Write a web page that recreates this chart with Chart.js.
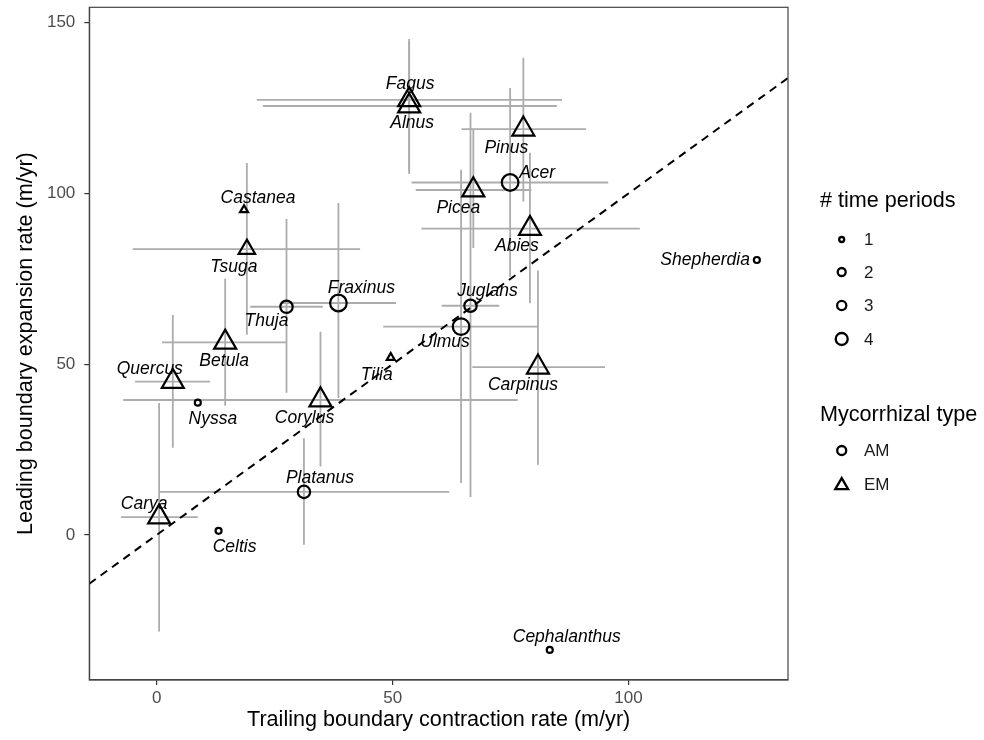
<!DOCTYPE html>
<html>
<head>
<meta charset="utf-8">
<script src="https://cdn.jsdelivr.net/npm/chart.js@4.4.1/dist/chart.umd.min.js"></script>
<style>
  html, body { margin: 0; padding: 0; background: #ffffff; }
  canvas { display: block; }
</style>
</head>
<body>
<canvas id="c" width="984" height="740"></canvas>
<script>
// ---- data ----
const species = ['Fagus','Alnus','Castanea','Tsuga','Thuja','Fraxinus','Betula','Quercus','Nyssa','Corylus','Tilia','Ulmus','Juglans','Picea','Acer','Pinus','Abies','Carpinus','Shepherdia','Cephalanthus','Platanus','Carya','Celtis'];
const trailing = [53.5,53.5,18.5,19.1,27.5,38.5,14.5,3.4,8.7,34.7,49.6,64.5,66.5,67.1,74.9,77.7,79.1,80.8,127.2,83.3,31.2,0.5,13.1];
const leading  = [127.4,125.6,95.2,83.7,66.8,67.9,56.4,44.9,38.7,39.5,51.9,61.0,67.1,101.0,103.2,118.8,89.7,49.1,80.5,-33.7,12.6,5.2,1.2];
const trailLo = [21.2,22.5,null,-5.1,19.8,26.3,1.1,-4.6,null,-7.1,null,48.0,60.4,54.9,54.0,64.6,56.1,66.9,null,null,0.5,-7.6,null];
const trailHi = [85.9,84.8,null,43.1,35.2,50.7,27.5,11.3,null,76.5,null,80.8,72.6,79.4,95.7,91.0,102.4,95.0,null,null,62.0,8.7,null];
const leadLo  = [105.7,106.5,null,58.6,41.6,40.1,37.8,25.5,null,20.0,null,15.2,11.1,84.0,75.5,97.6,67.8,20.5,null,null,-2.9,-28.3,null];
const leadHi  = [145.2,144.5,null,108.9,92.5,97.2,75.0,64.4,null,59.5,null,106.9,123.6,118.6,130.9,139.7,111.9,77.4,null,null,28.3,38.6,null];
const periods = [4,4,1,3,3,4,4,4,1,4,1,4,3,4,4,4,4,4,1,1,3,4,1];
const myco    = ['EM','EM','EM','EM','AM','AM','EM','EM','AM','EM','EM','AM','AM','EM','AM','EM','EM','EM','AM','AM','AM','EM','AM'];
const xTicks = [0, 50, 100];
const yTicks = [0, 50, 100, 150];
const periodLevels = [1, 2, 3, 4];
const mycoLevels = ['AM', 'EM'];
const xRange = [-14.3, 133.8];
const yRange = [-42.5, 154.5];
const oneToOne = [xRange[0], xRange[1]]; // y = x reference line

// ---- layout / style (not data) ----
const labelOffsets = [[1,-16],[3,17],[14,-12],[-13,18],[-20,14],[23,-15],[-1,19],[-23,-12],[15,16],[-16,18],[-14,17],[-16,16],[17,-15],[-15,18],[27,-9],[-17,19],[-13,18],[-15,18],[-7,0],[17,-13],[16,-14],[-15,-13],[16,16]];
const labelAlign = species.map(s => s === 'Shepherdia' ? 'right' : 'center');
const circleR = {1: 3.0, 2: 5.2, 3: 6.2, 4: 8.3};
const triScale = 1.53;
const legendCircleR = {1: 2.5, 2: 4.0, 3: 4.6, 4: 6.0};
const FONT = '"Liberation Sans", Arial, Helvetica, sans-serif';

const radii = periods.map((p, i) => myco[i] === 'EM' ? circleR[p] * triScale : circleR[p]);
const styles = myco.map(m => m === 'EM' ? 'triangle' : 'circle');

const overlay = {
  id: 'overlay',
  beforeDatasetsDraw(chart) {
    const {ctx, chartArea: a, scales: {x, y}} = chart;
    ctx.save();
    ctx.beginPath();
    ctx.rect(a.left, a.top, a.right - a.left, a.bottom - a.top);
    ctx.clip();
    ctx.strokeStyle = 'rgb(172,172,172)';
    ctx.lineWidth = 1.8;
    for (let i = 0; i < species.length; i++) {
      if (trailLo[i] !== null) {
        const py = y.getPixelForValue(leading[i]);
        ctx.beginPath();
        ctx.moveTo(x.getPixelForValue(trailLo[i]), py);
        ctx.lineTo(x.getPixelForValue(trailHi[i]), py);
        ctx.stroke();
      }
      if (leadLo[i] !== null) {
        const px = x.getPixelForValue(trailing[i]);
        ctx.beginPath();
        ctx.moveTo(px, y.getPixelForValue(leadLo[i]));
        ctx.lineTo(px, y.getPixelForValue(leadHi[i]));
        ctx.stroke();
      }
    }
    ctx.restore();
  },
  afterDatasetsDraw(chart) {
    const {ctx, chartArea: a, scales: {x, y}} = chart;
    ctx.save();
    ctx.fillStyle = '#000';
    ctx.font = 'italic 17.5px ' + FONT;
    ctx.textBaseline = 'middle';
    for (let i = 0; i < species.length; i++) {
      ctx.textAlign = labelAlign[i];
      ctx.fillText(species[i], x.getPixelForValue(trailing[i]) + labelOffsets[i][0], y.getPixelForValue(leading[i]) + labelOffsets[i][1]);
    }
    // panel border
    ctx.strokeStyle = '#444';
    ctx.lineWidth = 1.2;
    ctx.strokeRect(a.left, a.top, a.right - a.left, a.bottom - a.top);
    // axis titles
    ctx.font = '21.6px ' + FONT;
    ctx.textAlign = 'center';
    ctx.textBaseline = 'middle';
    ctx.fillText('Trailing boundary contraction rate (m/yr)', (a.left + a.right) / 2, 720);
    ctx.save();
    ctx.translate(26, (a.top + a.bottom) / 2);
    ctx.rotate(-Math.PI / 2);
    ctx.fillText('Leading boundary expansion rate (m/yr)', 0, 0);
    ctx.restore();
    // legends
    const lx = 820, ix = 841.7, tx = 864;
    ctx.textAlign = 'left';
    ctx.font = '21.6px ' + FONT;
    ctx.fillText('# time periods', lx, 201);
    ctx.fillText('Mycorrhizal type', lx, 415);
    ctx.font = '17px ' + FONT;
    ctx.strokeStyle = '#000';
    ctx.lineWidth = 2.3;
    const pys = [239.5, 272, 305.5, 339];
    periodLevels.forEach((p, k) => {
      ctx.beginPath();
      ctx.arc(ix, pys[k], legendCircleR[p], 0, Math.PI * 2);
      ctx.stroke();
      ctx.fillStyle = '#1a1a1a';
      ctx.fillText(String(p), tx, pys[k] + 1);
    });
    const mys = [450.5, 484.5];
    mycoLevels.forEach((m, k) => {
      ctx.beginPath();
      if (m === 'AM') {
        ctx.arc(ix, mys[k], 4.5, 0, Math.PI * 2);
      } else {
        const r = 7.4;
        for (let j = 0; j < 3; j++) {
          const ang = j * 2 * Math.PI / 3;
          const px = ix + Math.sin(ang) * r, py = mys[k] + 1 - Math.cos(ang) * r;
          if (j === 0) ctx.moveTo(px, py); else ctx.lineTo(px, py);
        }
        ctx.closePath();
      }
      ctx.stroke();
      ctx.fillText(m, tx, mys[k] + 1);
    });
    ctx.restore();
  }
};

new Chart(document.getElementById('c'), {
  type: 'scatter',
  data: {
    datasets: [
      {
        label: 'species',
        data: species.map((s, i) => ({x: trailing[i], y: leading[i]})),
        pointStyle: styles,
        pointRadius: radii,
        pointBorderWidth: 2.2,
        borderColor: '#000',
        backgroundColor: 'rgba(0,0,0,0)',
        pointBorderColor: '#000',
        pointBackgroundColor: 'rgba(0,0,0,0)'
      },
      {
        type: 'line',
        label: '1:1',
        data: oneToOne.map(v => ({x: v, y: v})),
        borderColor: '#000',
        borderWidth: 2,
        borderDash: [8, 6],
        pointRadius: 0,
        fill: false
      }
    ]
  },
  options: {
    responsive: false,
    animation: false,
    events: [],
    layout: {autoPadding: false, padding: {left: 0, right: 196, top: 7.3, bottom: 0}},
    scales: {
      x: {
        type: 'linear', min: xRange[0], max: xRange[1],
        afterFit(s) { s.height = 60; s.paddingLeft = 0; s.paddingRight = 0; },
        afterBuildTicks(s) { s.ticks = xTicks.map(v => ({value: v})); },
        grid: {display: true, drawOnChartArea: false, drawTicks: true, tickLength: 5, color: '#333', lineWidth: 1.2},
        border: {display: true, color: '#444', width: 1.2},
        ticks: {color: '#4d4d4d', font: {family: FONT, size: 17}, padding: 3, maxRotation: 0}
      },
      y: {
        type: 'linear', min: yRange[0], max: yRange[1],
        afterFit(s) { s.width = 89.3; s.paddingTop = 0; s.paddingBottom = 0; },
        afterBuildTicks(s) { s.ticks = yTicks.map(v => ({value: v})); },
        grid: {display: true, drawOnChartArea: false, drawTicks: true, tickLength: 5, color: '#333', lineWidth: 1.2},
        border: {display: true, color: '#444', width: 1.2},
        ticks: {color: '#4d4d4d', font: {family: FONT, size: 17}, padding: 9}
      }
    },
    plugins: {legend: {display: false}, tooltip: {enabled: false}}
  },
  plugins: [overlay]
});
</script>
</body>
</html>
